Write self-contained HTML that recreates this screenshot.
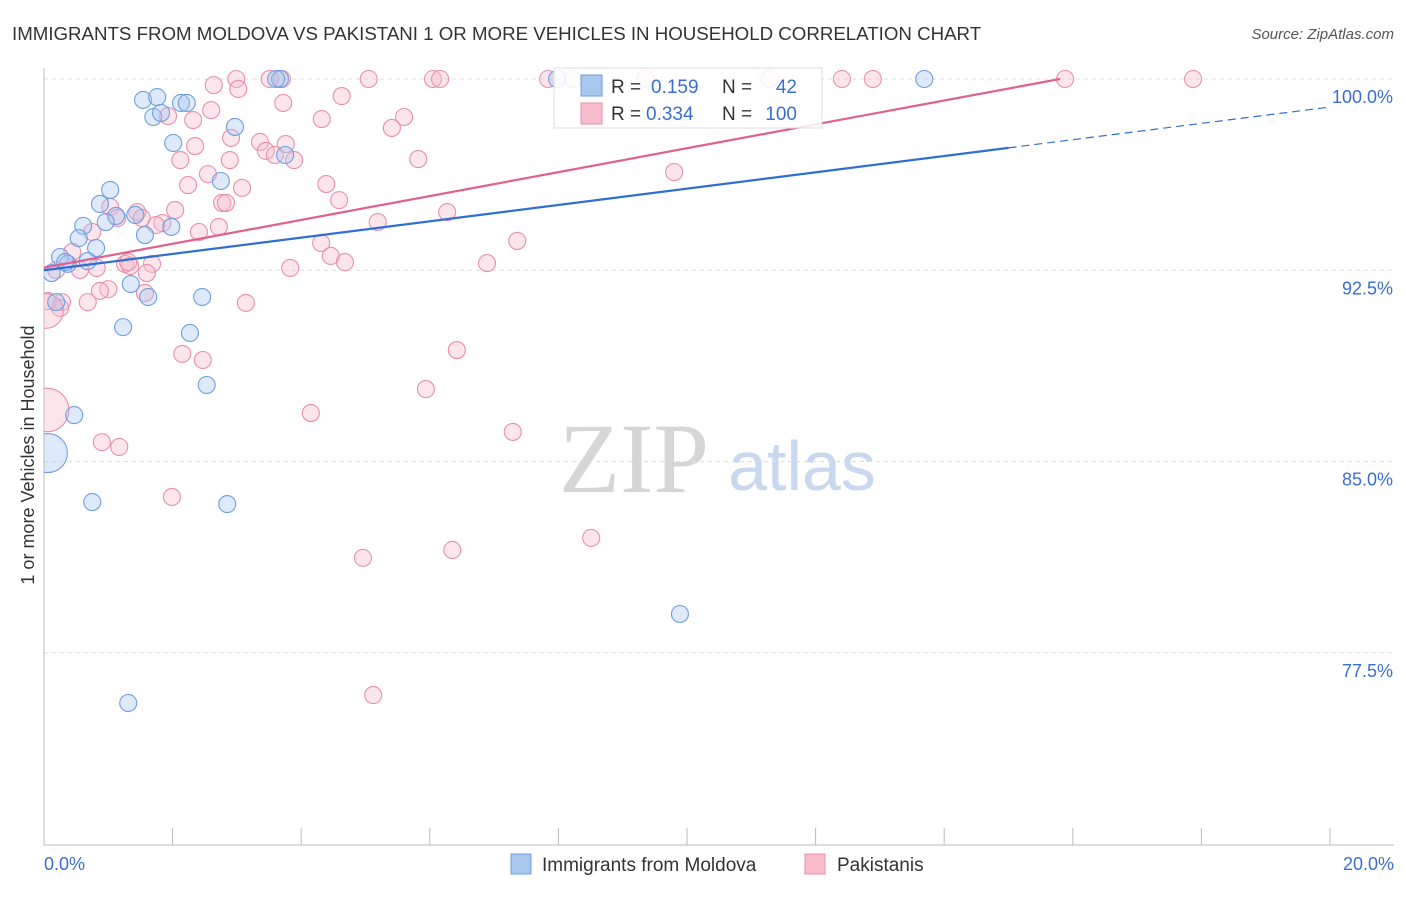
<!DOCTYPE html>
<html><head><meta charset="utf-8">
<style>
body{margin:0;background:#fff;font-family:"Liberation Sans",sans-serif;}
</style></head>
<body>
<svg id="chart" width="1406" height="892" xmlns="http://www.w3.org/2000/svg" font-family="Liberation Sans, sans-serif">
<defs><clipPath id="plotclip"><rect x="44" y="40" width="1360" height="805"/></clipPath></defs>
<text x="12" y="40" font-size="18.7" fill="#333">IMMIGRANTS FROM MOLDOVA VS PAKISTANI 1 OR MORE VEHICLES IN HOUSEHOLD CORRELATION CHART</text>
<text x="1394" y="39" font-size="15" fill="#555" font-style="italic" text-anchor="end">Source: ZipAtlas.com</text>
<text x="634" y="492" style="font-family:'Liberation Serif',serif" font-size="100" fill="#d6d6d6" text-anchor="middle">ZIP</text>
<text x="802" y="490" font-size="70" fill="#c8d8ee" text-anchor="middle">atlas</text>
<g id="grid"></g>
<g id="axes"></g>
<g id="marks" clip-path="url(#plotclip)"></g>
<g id="lines"></g>
<text transform="translate(34,455) rotate(-90)" font-size="18" fill="#333" text-anchor="middle">1 or more Vehicles in Household</text>
<text x="44" y="870" font-size="18" fill="#3a6fd0">0.0%</text>
<text x="1394" y="870" font-size="18" fill="#3a6fd0" text-anchor="end">20.0%</text>
<g>
<rect x="554" y="68" width="268" height="60" fill="#fff" fill-opacity="0.85" stroke="#ddd"/>
<rect x="581" y="75" width="21" height="21" fill="#a9c6ef" stroke="#6e9fe0"/>
<rect x="581" y="103" width="21" height="21" fill="#f8bccd" stroke="#e98fab"/>
<text x="611" y="93" font-size="19" fill="#333">R = </text><text x="651" y="93" font-size="19" fill="#3a6fd0">0.159</text>
<text x="722" y="93" font-size="19" fill="#333">N = </text><text x="797" y="93" font-size="19" fill="#3a6fd0" text-anchor="end">42</text>
<text x="611" y="120" font-size="19" fill="#333">R = </text><text x="646" y="120" font-size="19" fill="#3a6fd0">0.334</text>
<text x="722" y="120" font-size="19" fill="#333">N = </text><text x="797" y="120" font-size="19" fill="#3a6fd0" text-anchor="end">100</text>
</g>
<g>
<rect x="511" y="854" width="20" height="20" fill="#a9c6ef" stroke="#6e9fe0"/>
<text x="542" y="871" font-size="19" fill="#333">Immigrants from Moldova</text>
<rect x="805" y="854" width="20" height="20" fill="#f8bccd" stroke="#e98fab"/>
<text x="837" y="871" font-size="19" fill="#333">Pakistanis</text>
</g>
</svg>
<script>
const blueX=[3.67,7.98,13.69,1.54,1.76,2.13,2.22,1.70,1.82,2.01,2.97,3.75,2.75,1.03,0.87,1.12,0.96,1.42,0.61,1.98,1.57,0.81,0.54,0.25,0.37,0.68,0.12,0.19,1.35,1.62,2.46,1.23,2.27,2.53,0.47,0.75,2.85,9.89,1.31,0.06,0.33,3.61];
const blueY=[100,100,100,99.18,99.29,99.06,99.06,98.51,98.67,97.49,98.12,97.02,96.0,95.65,95.10,94.63,94.39,94.67,94.24,94.20,93.88,93.37,93.76,93.02,92.75,92.86,92.39,91.25,91.96,91.45,91.45,90.27,90.04,88.0,86.82,83.41,83.33,79.02,75.53,85.33,92.82,100];
const blueW=[1,1,1,1,1,1,1,1,1,1,1,1,1,1,1,1,1,1,1,1,1,1,1,1,1,1,1,1,1,1,1,1,1,1,1,1,1,1,1,5,1,1];
const pinkX=[2.64,2.99,3.02,3.51,3.70,5.05,6.05,6.16,7.84,8.23,9.35,11.29,12.41,12.89,15.88,17.87,2.60,3.72,4.63,5.60,4.32,5.41,1.93,2.32,2.91,3.36,3.76,3.89,3.45,3.59,2.35,2.12,2.89,5.82,9.80,2.55,3.08,2.24,4.39,4.59,2.77,2.83,2.04,1.45,1.03,1.52,1.14,1.84,1.74,2.72,5.19,6.27,2.41,0.75,0.44,4.31,7.36,4.46,4.68,6.89,3.83,1.26,1.68,1.34,0.82,0.56,1.31,1.60,0.19,1.00,0.87,1.57,0.68,0.28,0.06,0.25,3.14,2.15,2.47,6.42,5.94,4.15,7.29,0.90,1.17,1.99,6.35,4.96,8.51,5.12,0.05,0.03];
const pinkY=[99.76,100,99.61,100,100,100,100,100,100,100,100,100,100,100,100,100,98.78,99.06,99.33,98.51,98.43,98.08,98.55,98.39,97.69,97.53,97.45,96.82,97.18,97.02,97.37,96.82,96.82,96.86,96.35,96.27,95.73,95.84,95.88,95.25,95.14,95.14,94.86,94.78,94.98,94.55,94.55,94.35,94.27,94.20,94.39,94.78,94.0,94.0,93.22,93.57,93.65,93.06,92.82,92.78,92.59,92.75,92.75,92.67,92.59,92.51,92.82,92.39,92.51,91.76,91.69,91.61,91.25,91.25,91.29,91.02,91.22,89.22,88.98,89.37,87.84,86.90,86.16,85.76,85.57,83.61,81.53,81.22,82.0,75.84,87.02,90.9];
const pinkW=pinkX.map((_,i)=>i===pinkX.length-2?6:(i===pinkX.length-1?4:1));
const yTicks=[100,92.5,85,77.5];
const yTickLabels=["100.0%","92.5%","85.0%","77.5%"];
const blueFit=[92.5,98.9];
const pinkFit=[92.6,100.0];
const pinkFitEnd=15.8;
const blueSolidEnd=15.0;

const X=v=>44+v*64.3;
const Y=v=>79+(100-v)*25.5;
const NS="http://www.w3.org/2000/svg";
function mk(tag,attrs,parent){const e=document.createElementNS(NS,tag);for(const k in attrs)e.setAttribute(k,attrs[k]);parent.appendChild(e);return e;}
const grid=document.getElementById('grid'),axes=document.getElementById('axes'),marks=document.getElementById('marks'),lines=document.getElementById('lines');
yTicks.forEach((t,i)=>{
  const l=mk('line',{x1:44,x2:1394,y1:Y(t),y2:Y(t),stroke:'#ddd','stroke-dasharray':'4,4'},grid);
  
  
  const tx=mk('text',{x:1393,y:Y(t)+24,'font-size':18,fill:'#3a6fd0','text-anchor':'end'},grid);
  tx.textContent=yTickLabels[i];
  
  
});
const ax=mk('line',{x1:44,x2:44,y1:68,y2:845,stroke:'#bbb'},axes);


const bx=mk('line',{x1:44,x2:1394,y1:845,y2:845,stroke:'#bbb'},axes);


for(let i=0;i<=10;i++){
  const t=mk('line',{x1:X(i*2),x2:X(i*2),y1:828,y2:845,stroke:'#bbb'},axes);
  
  
}
function pts(xs,ys,ws,fill,stroke,name){
  xs.forEach((v,i)=>{
    const c=mk('circle',{cx:X(v),cy:Y(ys[i]),r:ws[i]>1?8.5+ws[i]*2.2:8.5,fill:fill,'fill-opacity':0.38,stroke:stroke,'stroke-width':1.1},marks);
    
    
  });
}
pts(pinkX,pinkY,pinkW,'#f8bccd','#e98fab','pakistani-point');
pts(blueX,blueY,blueW,'#a9c6ef','#6e9fe0','moldova-point');
const bAt=x=>blueFit[0]+(blueFit[1]-blueFit[0])*x/20;
const b1=mk('line',{x1:X(0),y1:Y(bAt(0)),x2:X(blueSolidEnd),y2:Y(bAt(blueSolidEnd)),stroke:'#2f6fd0','stroke-width':2.2},lines);


const b2=mk('line',{x1:X(blueSolidEnd),y1:Y(bAt(blueSolidEnd)),x2:X(20),y2:Y(bAt(20)),stroke:'#2f6fd0','stroke-width':1.2,'stroke-dasharray':'8,5'},lines);


const p1=mk('line',{x1:X(0),y1:Y(pinkFit[0]),x2:X(pinkFitEnd),y2:Y(pinkFit[1]),stroke:'#e0608f','stroke-width':2.2},lines);


</script>
</body></html>
